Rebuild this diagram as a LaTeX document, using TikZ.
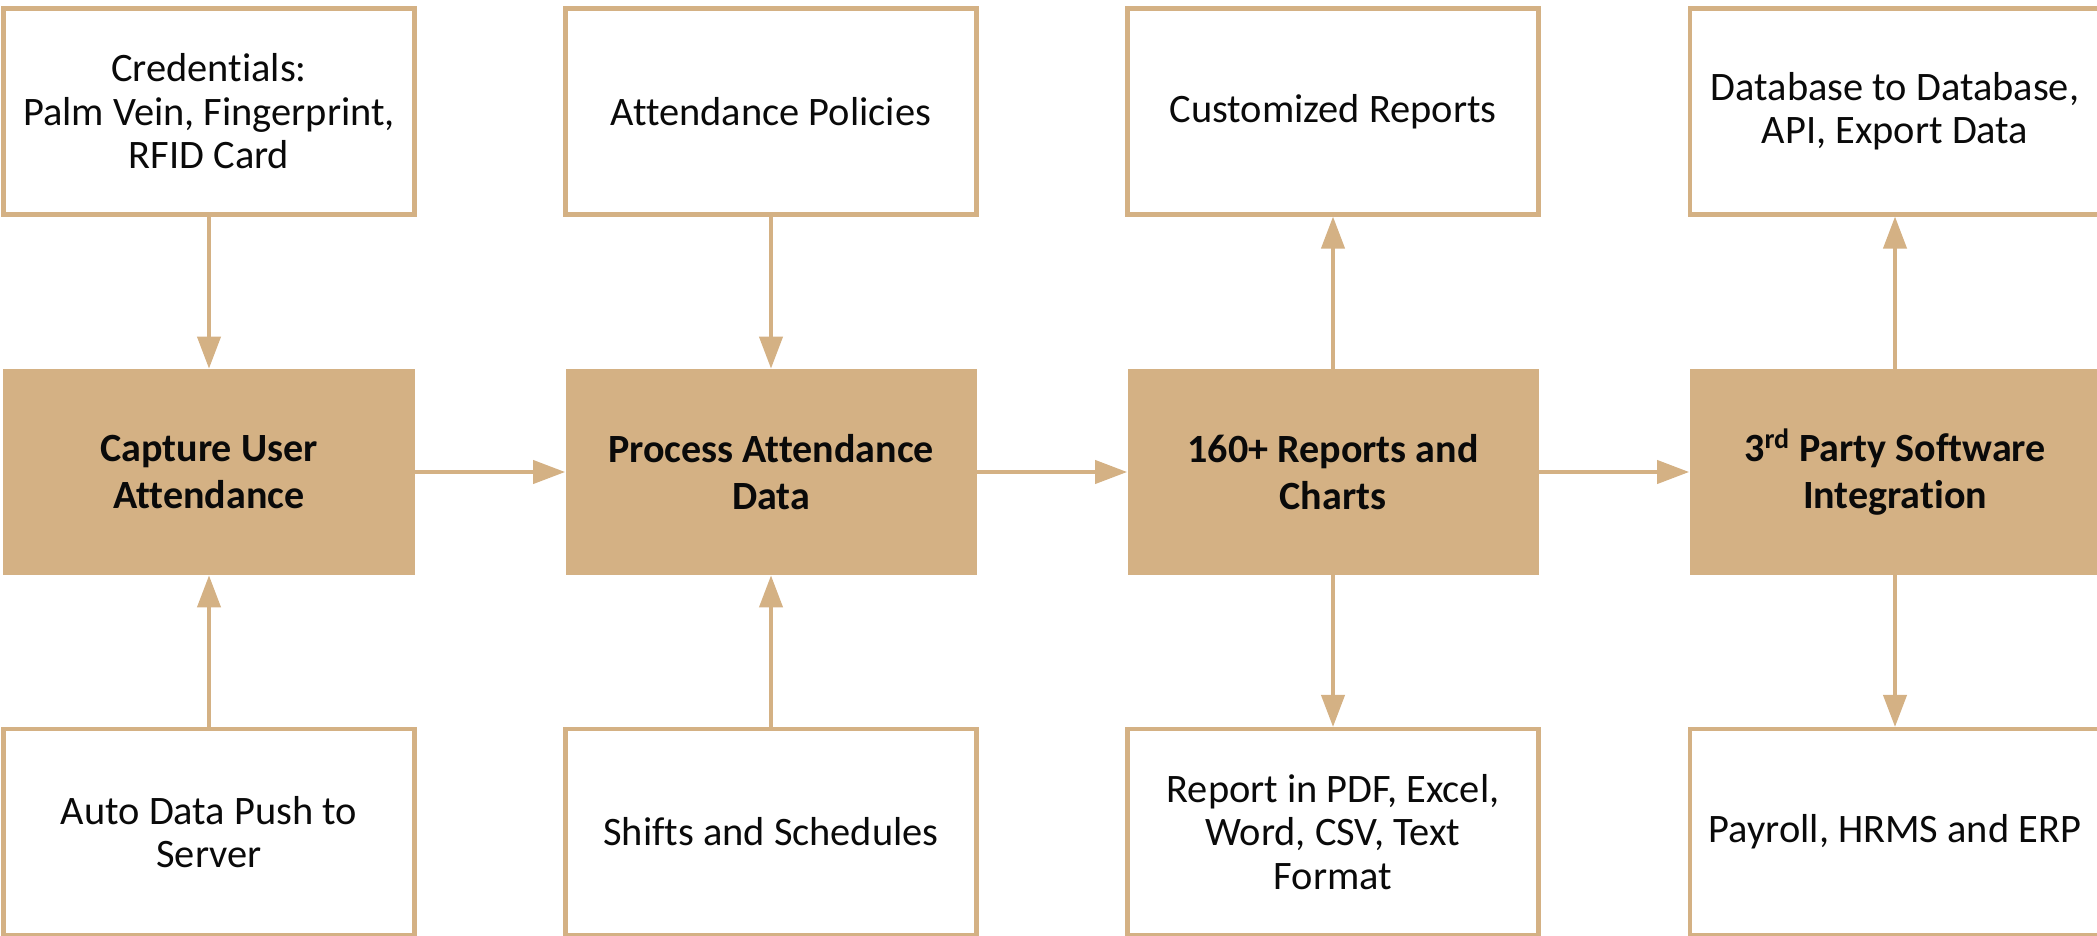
\documentclass[tikz,border=0pt]{standalone}
\usepackage{fontspec}
\setmainfont{Carlito}[Ligatures=NoCommon]
\usetikzlibrary{arrows.meta,positioning}
\definecolor{sand}{RGB}{212,177,132}
\definecolor{ink}{RGB}{10,10,10}
\tikzset{
  info/.style={draw=sand,line width=2.3pt,fill=white,minimum width=8.22cm,minimum height=4.12cm,
    inner sep=0pt,align=center,text=ink,font=\fontsize{23}{24.7}\selectfont},
  stage/.style={fill=sand,minimum width=8.22cm,minimum height=4.12cm,
    inner sep=0pt,align=center,text=ink,font=\fontsize{22.8}{26.5}\selectfont\bfseries},
  arr/.style={-{Triangle[length=6.4mm,width=4.6mm]},line width=2.3pt,draw=sand},
}

\begin{document}
\begin{tikzpicture}
\useasboundingbox (0,0) rectangle (41.94,-18.7);
% main flow, middle row
\node[stage] (capture) at (4.18,-9.44) {Capture User\\Attendance};
\node[stage] (process) at (15.42,-9.44) {Process Attendance\\Data};
\node[stage] (reports) at (26.66,-9.44) {160+ Reports and\\Charts};
\node[stage] (integ) at (37.90,-9.44) {3\textsuperscript{rd} Party Software\\Integration};
% top row
\node[info] (cred) at (4.18,-2.23) {Credentials:\\Palm Vein, Fingerprint,\\RFID Card};
\node[info] (policy) at (15.42,-2.23) {Attendance Policies};
\node[info] (custom) at (26.66,-2.23) {Customized Reports};
\node[info] (dbase) at (37.90,-2.23) {Database to Database,\\API, Export Data};
% bottom row
\node[info] (push) at (4.18,-16.64) {Auto Data Push to\\Server};
\node[info] (shifts) at (15.42,-16.64) {Shifts and Schedules};
\node[info] (formats) at (26.66,-16.64) {Report in PDF, Excel,\\Word, CSV, Text\\Format};
\node[info] (payroll) at (37.90,-16.64) {Payroll, HRMS and ERP};
% connectors
\foreach \a/\b in {capture/process,process/reports,reports/integ}
  \draw[arr] (\a) -- (\b);
\foreach \a/\b in {cred/capture,push/capture,policy/process,shifts/process,
    reports/custom,reports/formats,integ/dbase,integ/payroll}
  \draw[arr] (\a) -- (\b);
\end{tikzpicture}
\end{document}
